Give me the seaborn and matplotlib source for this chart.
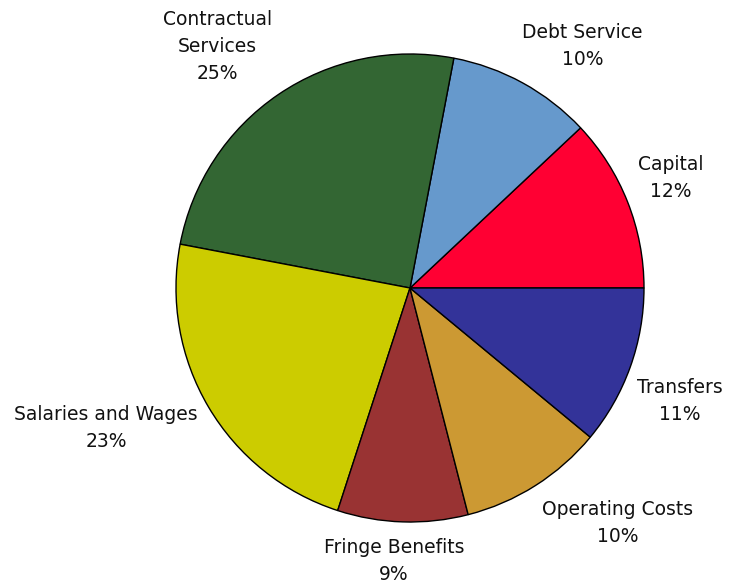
import matplotlib
matplotlib.use("Agg")
import matplotlib.pyplot as plt
import seaborn as sns
import numpy as np

sns.set_theme(style="white")
plt.rcParams['font.family'] = ['DejaVu Sans']

categories = ["Capital", "Debt Service", "Contractual\nServices", "Salaries and Wages",
              "Fringe Benefits", "Operating Costs", "Transfers"]
shares = [12, 10, 25, 23, 9, 10, 11]
colors = ["#FF0033", "#6699CC", "#336633", "#CCCC00", "#993333", "#CC9933", "#333399"]

# label placement: (radial distance, angle offset in degrees) relative to each wedge's mid-angle
label_layout = [(1.21, 1.2), (1.27, -6.7), (1.32, 4.3), (1.43, -5.9),
                (1.17, -1.6), (1.34, 9.0), (1.25, -3.0)]

fig = plt.figure(figsize=(7.32, 5.85), dpi=100)
ax = fig.add_axes([0, 0, 1, 1])
wedges, _ = ax.pie(shares, colors=colors, startangle=0, counterclock=True,
                   radius=1.0, wedgeprops=dict(edgecolor="black", linewidth=1.0))

total = sum(shares)
for w, name, val, (dist, doff) in zip(wedges, categories, shares, label_layout):
    mid = (w.theta1 + w.theta2) / 2.0 + doff
    x = dist * np.cos(np.radians(mid))
    y = dist * np.sin(np.radians(mid))
    ax.text(x, y, f"{name}\n{round(100 * val / total)}%", ha="center", va="center",
            fontsize=13.5, linespacing=1.55, color="#111111")

ax.set_xlim(-410 / 234, (732 - 410) / 234)
ax.set_ylim(-(585 - 288) / 234, 288 / 234)
ax.set_aspect("auto")
ax.axis("off")
fig.savefig("out.png", dpi=100, facecolor="white")
